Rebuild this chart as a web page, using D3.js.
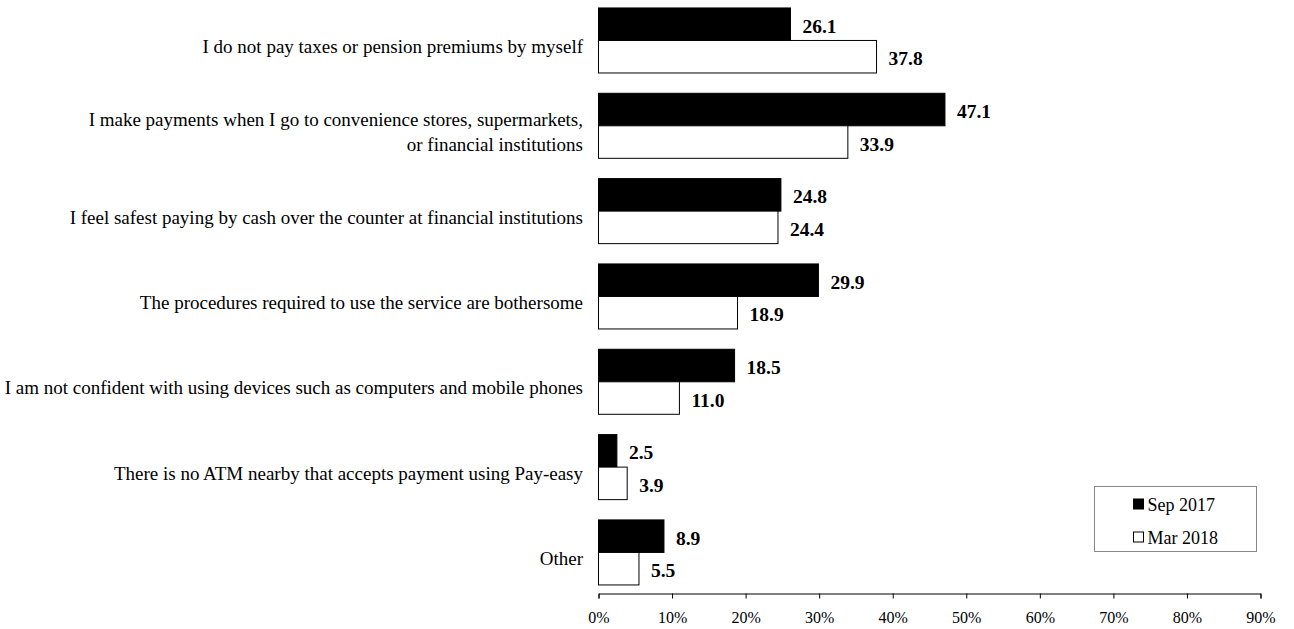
<!DOCTYPE html>
<html>
<head>
<meta charset="utf-8">
<script src="https://cdn.jsdelivr.net/npm/d3@7"></script>
<style>
  body { margin: 0; background: #fff; }
  text { font-family: "Liberation Serif", "Times New Roman", serif; fill: #000; }
</style>
</head>
<body>
<div id="chart"></div>
<script>
// reasons (each entry is one label, lines split on "\n")
var categories = [
  "I do not pay taxes or pension premiums by myself",
  "I make payments when I go to convenience stores, supermarkets,\nor financial institutions",
  "I feel safest paying by cash over the counter at financial institutions",
  "The procedures required to use the service are bothersome",
  "I am not confident with using devices such as computers and mobile phones",
  "There is no ATM nearby that accepts payment using Pay-easy",
  "Other"
];
var seriesNames = ["Sep 2017", "Mar 2018"];
var sep2017 = [26.1, 47.1, 24.8, 29.9, 18.5, 2.5, 8.9];
var mar2018 = [37.8, 33.9, 24.4, 18.9, 11.0, 3.9, 5.5];
var xTicks = [0, 10, 20, 30, 40, 50, 60, 70, 80, 90];

var width = 1294, height = 629;

var svg = d3.select("#chart").append("svg")
  .attr("width", width)
  .attr("height", height);

var x = d3.scaleLinear().domain([0, 90]).range([598.5, 1260.5]);

var y = d3.scaleBand()
  .domain(categories)
  .range([-2.2, 595.1])
  .paddingInner(0.238)
  .paddingOuter(0.119);

var ySub = d3.scaleBand()
  .domain(seriesNames)
  .range([0, y.bandwidth()]);

var rows = categories.map(function(c, i) {
  return { cat: c, vals: [
    { s: seriesNames[0], v: sep2017[i] },
    { s: seriesNames[1], v: mar2018[i] }
  ]};
});

var fills = { "Sep 2017": "#000", "Mar 2018": "#fff" };

// bars
var groups = svg.append("g").selectAll("g.row").data(rows).enter()
  .append("g")
  .attr("class", "row")
  .attr("transform", function(d) { return "translate(0," + y(d.cat) + ")"; });

groups.selectAll("rect").data(function(d) { return d.vals; }).enter()
  .append("rect")
  .attr("x", x(0))
  .attr("y", function(d) { return ySub(d.s); })
  .attr("width", function(d) { return x(d.v) - x(0); })
  .attr("height", ySub.bandwidth())
  .attr("fill", function(d) { return fills[d.s]; })
  .attr("stroke", "#000")
  .attr("stroke-width", 1);

// value labels
groups.selectAll("text.val").data(function(d) { return d.vals; }).enter()
  .append("text")
  .attr("class", "val")
  .attr("x", function(d) { return x(d.v) + 12; })
  .attr("y", function(d) { return ySub(d.s) + ySub.bandwidth() / 2 + 2; })
  .attr("dominant-baseline", "central")
  .style("font-size", "19.5px")
  .style("font-weight", "bold")
  .text(function(d) { return d.v.toFixed(1); });

// category labels
var catLabels = svg.append("g").selectAll("text.cat").data(categories).enter()
  .append("text")
  .attr("class", "cat")
  .attr("text-anchor", "end")
  .style("font-size", "19px");

catLabels.each(function(d) {
  var lines = d.split("\n");
  var cy = y(d) + y.bandwidth() / 2 + 6;
  var lh = 25;
  var t = d3.select(this);
  lines.forEach(function(line, i) {
    t.append("tspan")
      .attr("x", 583)
      .attr("y", cy + (i - (lines.length - 1) / 2) * lh)
      .attr("dominant-baseline", "central")
      .text(line);
  });
});

// x axis
var xAxis = d3.axisBottom(x)
  .tickValues(xTicks)
  .tickFormat(function(d) { return d + "%"; })
  .tickSize(5)
  .tickSizeOuter(5)
  .tickPadding(13);

var axisG = svg.append("g")
  .attr("transform", "translate(0,593.5)")
  .call(xAxis);
axisG.select(".domain").attr("stroke", "#000");
axisG.selectAll(".tick line").attr("stroke", "#000");
axisG.selectAll(".tick text")
  .style("font-family", "'Liberation Serif', serif")
  .style("font-size", "16px")
  .attr("fill", "#000");

// legend
var legend = svg.append("g").attr("transform", "translate(1094.5,486.5)");
legend.append("rect")
  .attr("width", 162)
  .attr("height", 65)
  .attr("fill", "#fff")
  .attr("stroke", "#888");

var legItems = legend.selectAll("g.item").data(seriesNames).enter()
  .append("g")
  .attr("class", "item")
  .attr("transform", function(d, i) { return "translate(0," + (17.5 + i * 33) + ")"; });

legItems.append("rect")
  .attr("x", 39)
  .attr("y", -5)
  .attr("width", 10)
  .attr("height", 10)
  .attr("fill", function(d) { return fills[d]; })
  .attr("stroke", "#000");

legItems.append("text")
  .attr("x", 53)
  .attr("y", 1)
  .attr("dominant-baseline", "central")
  .style("font-size", "18px")
  .text(function(d) { return d; });
</script>
</body>
</html>
